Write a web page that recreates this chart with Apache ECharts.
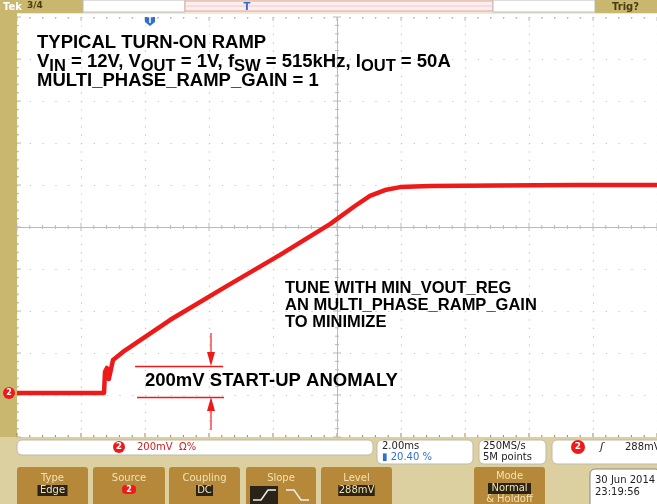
<!DOCTYPE html>
<html>
<head>
<meta charset="utf-8">
<script src="https://cdn.jsdelivr.net/npm/echarts@6/dist/echarts.min.js"></script>
<style>
html,body{margin:0;padding:0;background:#fff;}
#scope{width:657px;height:504px;}
</style>
</head>
<body>
<div id="scope"></div>
<script>
// trace of channel 2, time in ms (2 ms/div), volts (200 mV/div)
var times = [0, 2.72, 2.75, 2.81, 2.87, 3.0, 3.31, 4.78, 6.5, 8.22, 9.78, 10.56, 11.03, 11.5, 11.97, 12.9, 15, 17.5, 20];
var volts = [0.01, 0.01, 0.11, 0.129, 0.076, 0.167, 0.205, 0.357, 0.514, 0.667, 0.814, 0.9, 0.948, 0.976, 0.99, 0.995, 0.998, 1.0, 1.0];
var anomalyLevels = [0.138, -0.01];

var L = 17, T = 17, W = 640, H = 420;
var TAN = '#c9b76f', BTN = '#b5883a', RED = '#ee1a1a';

var trace = [];
for (var i = 0; i < times.length; i++) trace.push([times[i], volts[i]]);

var g = [];
function rect(x, y, w, h, fill, r, stroke) {
    g.push({type:'rect', shape:{x:x, y:y, width:w, height:h, r:r||0},
        style:{fill:fill, stroke:stroke||null, lineWidth:1}, silent:true});
}
function txt(x, y, s, font, color, align, z) {
    g.push({type:'text', x:x, y:y, z:z||10, silent:true,
        style:{text:s, font:font, fill:color, textAlign:align||'left', textVerticalAlign:'middle'}});
}
function seg(x1, y1, x2, y2, color, w) {
    g.push({type:'line', shape:{x1:x1, y1:y1, x2:x2, y2:y2}, style:{stroke:color, lineWidth:w||1}, silent:true, z:5});
}

// frame chrome
rect(0, 0, 657, 14, '#efe9d4');
rect(0, 0, 83, 13, TAN);
txt(3, 7, 'Tek', 'bold 10px DejaVu Sans', '#fff');
txt(27, 6, '3/4', 'bold 9px DejaVu Sans', '#4a3a10');
rect(83, 0, 102, 12, '#fff', 0, '#bbb');
rect(185, 1, 308, 10, '#fbeeee', 0, '#e4a3a3');
seg(185, 6, 493, 6, '#f2c6c6', 1);
rect(493, 0, 102, 12, '#fff', 0, '#bbb');
rect(595, 0, 62, 13, TAN);
txt(612, 7, 'Trig?', 'bold 10px DejaVu Sans', '#4a3a10');
txt(247, 7, 'T', 'bold 10px DejaVu Sans', '#2f6fd0', 'center');
rect(0, 13, L, 425, TAN);
rect(0, 437, 657, 67, '#ddd0a0');
// trigger position marker
g.push({type:'polygon', shape:{points:[[145,17],[155,17],[155,22],[150,26],[145,22]]}, style:{fill:'#2f6fd0'}, silent:true, z:6});
txt(150, 21, 'T', 'bold 8px DejaVu Sans', '#fff', 'center', 11);
// ground marker ch2
g.push({type:'circle', shape:{cx:9, cy:393, r:6}, style:{fill:RED}, silent:true});
txt(9, 393, '2', 'bold 8px DejaVu Sans', '#fff', 'center', 11);

// center cross ticks and frame ticks
var cx = L + W / 2, cy = T + H / 2;
for (var k = 0; k <= 50; k++) {
    var x = L + k * W / 50, len = (k % 5 === 0) ? 4 : 2;
    seg(x, cy - len, x, cy + len, '#b9b9b9');
    seg(x, T, x, T + len, '#b9b9b9');
    seg(x, T + H - len, x, T + H, '#9a8a50');
}
for (var k = 0; k <= 50; k++) {
    var y = T + k * H / 50, len = (k % 5 === 0) ? 4 : 2;
    seg(cx - len, y, cx + len, y, '#b9b9b9');
    seg(L, y, L + len, y, '#b9b9b9');
}

// bottom readouts
rect(17, 440, 356, 15, '#fff', 5, '#bba');
g.push({type:'circle', shape:{cx:119, cy:447, r:6}, style:{fill:RED}, silent:true});
txt(119, 447, '2', 'bold 9px DejaVu Sans', '#fff', 'center', 11);
txt(137, 447, '200mV  Ω%', '10px DejaVu Sans', '#d02020');
rect(377, 440, 96, 24, '#fff', 5, '#bba');
txt(382, 446, '2.00ms', '10px DejaVu Sans', '#222');
txt(382, 457, '▮ 20.40 %', '10px DejaVu Sans', '#2f6fd0');
rect(479, 440, 67, 24, '#fff', 5, '#bba');
txt(483, 446, '250MS/s', '10px DejaVu Sans', '#222');
txt(483, 457, '5M points', '10px DejaVu Sans', '#222');
rect(552, 440, 110, 24, '#fff', 5, '#bba');
g.push({type:'circle', shape:{cx:578, cy:447, r:7}, style:{fill:RED}, silent:true});
txt(578, 447, '2', 'bold 9px DejaVu Sans', '#fff', 'center', 11);
txt(600, 447, 'ʃ', 'italic 11px DejaVu Sans', '#222');
txt(625, 447, '288mV', '10px DejaVu Sans', '#222');

// soft-key buttons
var keys = [[17, 88, 'Type', 'Edge'], [93, 165, 'Source', '2'], [169, 240, 'Coupling', 'DC'], [246, 316, 'Slope', ''], [321, 392, 'Level', '288mV'], [474, 545, 'Mode', 'Normal']];
keys.forEach(function (b) {
    rect(b[0], 467, b[1] - b[0], 40, BTN, 3);
    var mid = (b[0] + b[1]) / 2;
    var ty = b[2] === 'Mode' ? 476 : 478, vy = b[2] === 'Mode' ? 488 : 490;
    txt(mid, ty, b[2], '10px DejaVu Sans', '#f3e2b0', 'center');
    if (b[3] === '2') {
        g.push({type:'rect', shape:{x:mid - 7, y:485, width:14, height:9, r:4}, style:{fill:RED}, silent:true, z:9});
        txt(mid, 490, '2', 'bold 8px DejaVu Sans', '#fff', 'center', 11);
    } else if (b[3]) {
        var w = b[3].length * 6.5 + 4;
        g.push({type:'rect', shape:{x:mid - w / 2, y:vy - 5, width:w, height:11}, style:{fill:'#2a2418'}, silent:true, z:9});
        txt(mid, vy, b[3], '10px DejaVu Sans', '#f3e2b0', 'center', 11);
    }
});
txt(509.5, 499, '& Holdoff', '10px DejaVu Sans', '#f3e2b0', 'center');
rect(250, 486, 28, 18, '#2a2418');
g.push({type:'polyline', shape:{points:[[253,500],[261,500],[268,490],[276,490]]}, style:{stroke:'#eee', lineWidth:1.5}, silent:true, z:11});
g.push({type:'polyline', shape:{points:[[286,490],[294,490],[301,500],[309,500]]}, style:{stroke:'#eee', lineWidth:1.5}, silent:true, z:11});
rect(590, 469, 70, 40, '#fff', 5, '#888');
txt(595, 480, '30 Jun 2014', '10px DejaVu Sans', '#222');
txt(595, 492, '23:19:56', '10px DejaVu Sans', '#222');

// annotations
var bold = 'bold 18.5px Liberation Sans';
var bold2 = 'bold 16.5px Liberation Sans';
txt(37, 43, 'TYPICAL TURN-ON RAMP', bold, '#000', 'left', 20);
g.push({type:'text', x:37, y:62, z:20, silent:true, style:{
    text:'{m|V}{s|IN}{m| = 12V, V}{s|OUT}{m| = 1V, f}{s|SW}{m| = 515kHz, I}{s|OUT}{m| = 50A}',
    textVerticalAlign:'middle',
    rich:{m:{font:bold, fill:'#000', lineHeight:20}, s:{font:'bold 16.5px Liberation Sans', fill:'#000', lineHeight:20, padding:[9, 0, 0, 0]}}
}});
txt(37, 81, 'MULTI_PHASE_RAMP_GAIN = 1', bold, '#000', 'left', 20);
txt(285, 288, 'TUNE WITH MIN_VOUT_REG', bold2, '#000', 'left', 20);
txt(285, 305, 'AN MULTI_PHASE_RAMP_GAIN', bold2, '#000', 'left', 20);
txt(285, 322, 'TO MINIMIZE', bold2, '#000', 'left', 20);
txt(145, 381, '200mV START-UP ANOMALY', bold, '#000', 'left', 20);
seg(211, 333, 211, 356, RED, 1.2);
g.push({type:'polygon', shape:{points:[[207,352],[215,352],[211,366]]}, style:{fill:RED}, silent:true, z:6});
seg(211, 407, 211, 430, RED, 1.2);
g.push({type:'polygon', shape:{points:[[207,411],[215,411],[211,397]]}, style:{fill:RED}, silent:true, z:6});

var myChart = echarts.init(document.getElementById('scope'));
var option = {
    backgroundColor:'#fff',
    animation:false,
    grid:{left:L, top:T, width:W, height:H},
    xAxis:{
        type:'value', min:0, max:20, interval:2,
        axisLine:{show:false}, axisTick:{show:false}, axisLabel:{show:false},
        splitLine:{show:true, lineStyle:{color:'#c4c4c4', width:1.2, type:[1.2, 7.2]}}
    },
    yAxis:{
        type:'value', min:-0.2, max:1.8, interval:0.2,
        axisLine:{show:false}, axisTick:{show:false}, axisLabel:{show:false},
        splitLine:{show:true, lineStyle:{color:'#c4c4c4', width:1.2, type:[1.2, 11.6]}}
    },
    series:[{
        type:'line', data:trace, showSymbol:false, z:8,
        lineStyle:{color:RED, width:4.5, join:'round'},
        markLine:{
            silent:true, symbol:'none', label:{show:false},
            lineStyle:{color:RED, width:1.3, type:'solid'},
            data:[
                {yAxis:0.8, lineStyle:{color:'#b9b9b9', width:1, type:'solid'}},
                {xAxis:10, lineStyle:{color:'#b9b9b9', width:1, type:'solid'}},
                [{coord:[3.69, anomalyLevels[0]]}, {coord:[6.44, anomalyLevels[0]]}],
                [{coord:[3.75, anomalyLevels[1]]}, {coord:[6.47, anomalyLevels[1]]}]
            ]
        }
    }],
    graphic:{elements:g}
};
myChart.setOption(option);
</script>
</body>
</html>
